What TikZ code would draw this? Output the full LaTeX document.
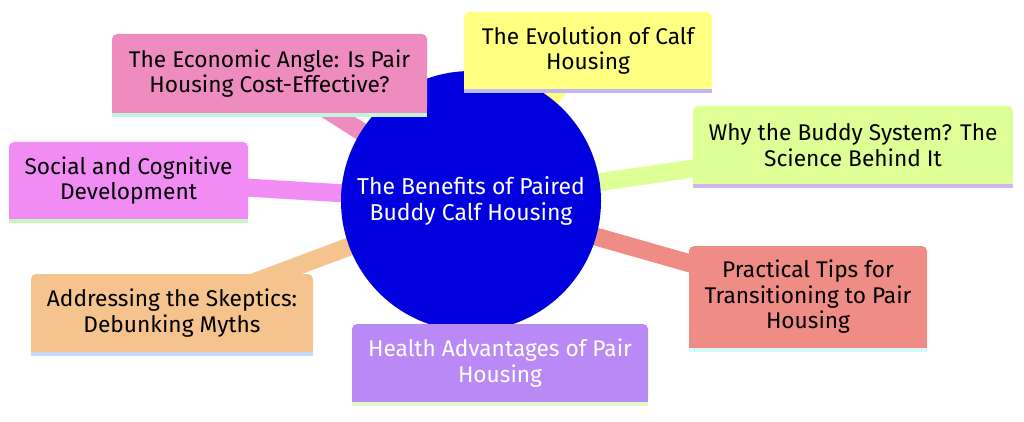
\documentclass[tikz,border=0pt]{standalone}
\usepackage{fontspec}
\setmainfont{Fira Sans}
\usepackage{xcolor}
\usetikzlibrary{calc}
\definecolor{rootblue}{HTML}{0000DE}
\definecolor{econpink}{HTML}{EE8CBF}
\definecolor{econline}{HTML}{C4F5DA}
\definecolor{evolyellow}{HTML}{FFFF82}
\definecolor{evolline}{HTML}{C0B6F5}
\definecolor{whygreen}{HTML}{DDFF95}
\definecolor{whyline}{HTML}{CDB8F5}
\definecolor{socialmag}{HTML}{F08CF3}
\definecolor{socialline}{HTML}{C6F5C2}
\definecolor{addrtan}{HTML}{F5C48E}
\definecolor{addrline}{HTML}{C2DAF5}
\definecolor{healthlilac}{HTML}{B98AF5}
\definecolor{healthline}{HTML}{E2F8C6}
\definecolor{practsalmon}{HTML}{F08C86}
\definecolor{practline}{HTML}{D2FAFA}
\pgfdeclarelayer{bg}\pgfsetlayers{bg,main}
\tikzset{leaf/.style={rectangle,rounded corners=5pt,inner sep=0pt,align=center,font=\fontsize{22.7}{25.5}\selectfont},
  branch/.style={line width=18pt}}

\begin{document}
\begin{tikzpicture}[x=1pt,y=-1pt]
\useasboundingbox (0,0) rectangle (1024,422);
\node[circle,fill=rootblue,minimum size=260pt,inner sep=0pt,align=center,text=white,font=\fontsize{23}{26}\selectfont] (root) at (471,201) {The Benefits of Paired\\Buddy Calf Housing};
\node[leaf,fill=econpink,minimum width=315pt,minimum height=79pt] (econ) at (269.5,73.5) {The Economic Angle: Is Pair\\Housing Cost-Effective?};
\node[leaf,fill=evolyellow,minimum width=248pt,minimum height=77pt] (evol) at (588,50.5) {The Evolution of Calf\\Housing};
\node[leaf,fill=whygreen,minimum width=320pt,minimum height=78pt] (why) at (853,145) {Why the Buddy System? The\\Science Behind It};
\node[leaf,fill=socialmag,minimum width=239pt,minimum height=77pt] (social) at (128.5,180.5) {Social and Cognitive\\Development};
\node[leaf,fill=addrtan,minimum width=282pt,minimum height=78pt] (addr) at (172,313) {Addressing the Skeptics:\\Debunking Myths};
\node[leaf,fill=healthlilac,minimum width=296pt,minimum height=78pt,text=white] (health) at (500,363) {Health Advantages of Pair\\Housing};
\node[leaf,fill=practsalmon,minimum width=238pt,minimum height=102pt] (pract) at (808,297) {Practical Tips for\\Transitioning to Pair\\Housing};
\foreach \n/\c/\l in {econ/econpink/econline,evol/evolyellow/evolline,why/whygreen/whyline,social/socialmag/socialline,addr/addrtan/addrline,health/healthlilac/healthline,pract/practsalmon/practline}{
  \fill[\c] (\n.south west) rectangle ([yshift=8pt]\n.south east);
  \fill[\l] (\n.south west) rectangle ([yshift=-4pt]\n.south east);}
\begin{pgfonlayer}{bg}
\foreach \n/\c in {econ/econpink,evol/evolyellow,why/whygreen,social/socialmag,addr/addrtan,health/healthlilac,pract/practsalmon}
  \draw[branch,\c] (root.center) -- (\n.center);
\end{pgfonlayer}
\end{tikzpicture}
\end{document}
